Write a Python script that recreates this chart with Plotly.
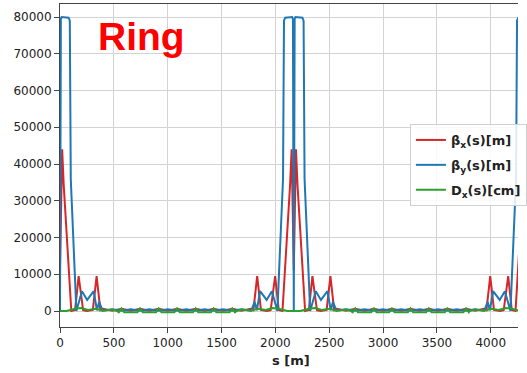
import plotly.graph_objects as go

# ---------------- data ----------------
# beta_x (s) [m]
bx_s = [0, 20, 35, 105, 140, 173, 215, 250, 305, 340, 375, 400,
        486, 571, 657, 744, 830, 917, 1002, 1087, 1173, 1260, 1343, 1427, 1513, 1600, 1685,
        1771, 1796, 1831, 1866, 1921, 1956, 1998, 2031, 2066, 2136, 2151, 2171, 2191, 2206, 2276, 2311,
        2344, 2386, 2421, 2476, 2511, 2546, 2571,
        2656, 2742, 2828, 2915, 2998, 3082, 3168, 3255, 3340, 3425, 3511, 3598, 3684, 3771, 3856, 3935,
        3960, 3995, 4030, 4085, 4120, 4162, 4195, 4230, 4300, 4315, 4335]
bx_v = [11000, 44000, 34000, 0, 300, 9500, 200, 0, 300, 9500, 200, 600,
        100, 600, 100, 600, 100, 600, 100, 600, 100, 600, 100, 600, 100, 600, 100,
        600, 200, 9500, 300, 0, 200, 9500, 300, 0, 34000, 44000, 11000, 44000, 34000, 0, 300,
        9500, 200, 0, 300, 9500, 200, 600,
        100, 600, 100, 600, 100, 600, 100, 600, 100, 600, 100, 600, 100, 600, 100, 600,
        200, 9500, 300, 0, 200, 9500, 300, 0, 34000, 44000, 11000]

# beta_y (s) [m]
by_s = [0, 8, 15, 80, 91, 100, 152, 204, 252, 313, 343, 364, 395,
        486, 571, 657, 744, 830, 917, 1002, 1087, 1173, 1260, 1343, 1427, 1513, 1600, 1685,
        1776, 1807, 1828, 1858, 1919, 1967, 2019, 2071, 2080, 2091, 2156, 2163, 2171,
        2179, 2186, 2251, 2262, 2271, 2323, 2375, 2423, 2484, 2514, 2535, 2566,
        2656, 2742, 2828, 2915, 2998, 3082, 3168, 3255, 3340, 3425, 3511, 3598, 3684, 3771, 3856,
        3940, 3971, 3992, 4022, 4083, 4131, 4183, 4235, 4244, 4255, 4320, 4327, 4335]
by_v = [0, 79500, 80000, 79800, 79000, 36000, 0, 5400, 3000, 5400, 200, 2500, 100,
        500, 100, 500, 100, 500, 100, 500, 100, 500, 100, 500, 100, 500, 100, 500,
        100, 2500, 200, 5400, 3000, 5400, 0, 36000, 79000, 79800, 80000, 79500, 0,
        79500, 80000, 79800, 79000, 36000, 0, 5400, 3000, 5400, 200, 2500, 100,
        500, 100, 500, 100, 500, 100, 500, 100, 500, 100, 500, 100, 500, 100, 500,
        100, 2500, 200, 5400, 3000, 5400, 0, 36000, 79000, 79800, 80000, 79500, 0]

# D_x (s) [cm]
dx_s = [0, 60, 150, 200, 260, 330, 400, 486, 530,
        546, 571, 596, 719, 744, 769, 892, 917, 942, 1062, 1087, 1112, 1235, 1260, 1285,
        1402, 1427, 1452, 1575, 1600, 1625,
        1641, 1685, 1771, 1841, 1911, 1971, 2021, 2111, 2171, 2231, 2321, 2371, 2431, 2501,
        2571, 2657, 2701,
        2717, 2742, 2767, 2890, 2915, 2940, 3057, 3082, 3107, 3230, 3255, 3280, 3400, 3425, 3450,
        3573, 3598, 3623, 3746, 3771, 3796,
        3805, 3849, 3935, 4005, 4075, 4135, 4185, 4275, 4335]
dx_v = [0, 0, 700, 800, 300, 600, 100, 400, 0,
        -350, 700, -350, -350, 700, -350, -350, 700, -350, -350, 700, -350, -350, 700, -350,
        -350, 700, -350, -350, 700, -350,
        0, 400, 100, 600, 300, 800, 700, 0, 0, 0, 700, 800, 300, 600,
        100, 400, 0,
        -350, 700, -350, -350, 700, -350, -350, 700, -350, -350, 700, -350, -350, 700, -350,
        -350, 700, -350, -350, 700, -350,
        0, 400, 100, 600, 300, 800, 700, 0, 0]

x_ticks = [0, 500, 1000, 1500, 2000, 2500, 3000, 3500, 4000]
y_ticks = [0, 10000, 20000, 30000, 40000, 50000, 60000, 70000, 80000]

# ---------------- figure ----------------
fig = go.Figure()
fig.add_trace(go.Scatter(x=bx_s, y=bx_v, mode="lines", name="<b>β<sub>x</sub>(s)[m]</b>",
                         legendgroup="a", line=dict(color="#d62728", width=2)))
fig.add_trace(go.Scatter(x=by_s, y=by_v, mode="lines", name="<b>β<sub>y</sub>(s)[m]</b>",
                         legendgroup="b", line=dict(color="#1f77b4", width=2)))
fig.add_trace(go.Scatter(x=dx_s, y=dx_v, mode="lines", name="<b>D<sub>x</sub>(s)[cm]</b>",
                         legendgroup="c", line=dict(color="#2ca02c", width=2)))

axis_common = dict(showgrid=True, gridcolor="#d3d3d3", gridwidth=1, zeroline=False,
                   showline=True, linecolor="#444444", linewidth=1,
                   ticks="outside", ticklen=5, tickcolor="#444444",
                   tickfont=dict(family="DejaVu Sans", size=12, color="#222222"))

fig.update_layout(
    width=527, height=373,
    margin=dict(l=60, r=0, t=4, b=46),
    paper_bgcolor="white", plot_bgcolor="white",
    showlegend=True,
    legend=dict(x=0.764, y=0.6285, xanchor="left", yanchor="top",
                tracegroupgap=5,
                bgcolor="rgba(255,255,255,0.85)", bordercolor="#d0d0d0", borderwidth=1,
                font=dict(family="DejaVu Sans", size=13, color="#222222")),
    xaxis=dict(range=[0, 4253], tickvals=x_ticks, ticktext=[str(v) for v in x_ticks],
               mirror=True, **axis_common),
    yaxis=dict(range=[-4354, 83537], tickvals=y_ticks, ticktext=[str(v) for v in y_ticks],
               **axis_common),
    annotations=[
        dict(text="<b>Ring</b>", xref="paper", yref="paper", x=0.0786, y=0.8997,
             xanchor="left", yanchor="middle", showarrow=False,
             font=dict(family="Liberation Sans", size=39, color="#ff0000")),
        dict(text="<b>s [m]</b>", xref="paper", yref="paper", x=0.505, y=-0.105,
             xanchor="center", yanchor="middle", showarrow=False,
             font=dict(family="DejaVu Sans", size=13, color="#222222")),
    ],
)

fig.write_html("out.html")
